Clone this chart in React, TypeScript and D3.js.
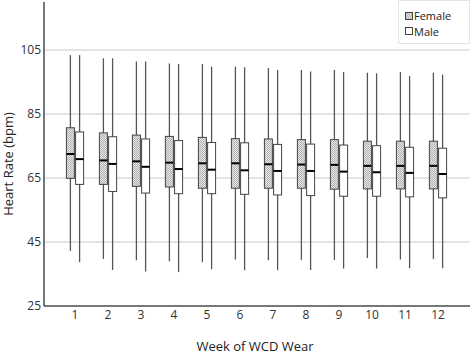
import React from "react";
import * as d3 from "d3";

const weeks = ["1", "2", "3", "4", "5", "6", "7", "8", "9", "10", "11", "12"];
const femaleMin = [42.2, 39.7, 39.3, 39.0, 38.7, 39.5, 39.3, 39.4, 39.4, 40.0, 39.5, 39.7];
const femaleQ1 = [64.9, 63.0, 62.4, 62.2, 61.8, 61.8, 61.8, 61.8, 61.5, 61.6, 61.6, 61.6];
const femaleMed = [72.5, 70.5, 70.2, 69.8, 69.6, 69.6, 69.3, 69.2, 69.1, 68.8, 68.8, 68.8];
const femaleQ3 = [80.7, 79.1, 78.4, 78.0, 77.7, 77.3, 77.2, 77.0, 77.0, 76.5, 76.5, 76.5];
const femaleMax = [103.4, 102.4, 101.4, 100.8, 100.6, 99.8, 99.4, 98.75, 98.75, 97.9, 98.1, 97.9];
const maleMin = [38.7, 36.25, 35.8, 35.6, 36.5, 36.2, 36.2, 36.25, 36.7, 36.7, 36.8, 36.8];
const maleQ1 = [63.0, 60.8, 60.3, 60.1, 60.1, 59.9, 59.7, 59.5, 59.3, 59.3, 59.1, 58.8];
const maleMed = [70.9, 69.4, 68.5, 67.8, 67.6, 67.4, 67.2, 67.2, 67.0, 66.8, 66.6, 66.25];
const maleQ3 = [79.4, 77.9, 77.2, 76.7, 76.1, 76.0, 75.5, 75.6, 75.3, 75.1, 74.6, 74.3];
const maleMax = [103.4, 102.4, 101.4, 100.6, 99.8, 99.6, 98.75, 98.3, 98.1, 97.7, 96.9, 97.3];
const yTicks = [25, 45, 65, 85, 105];

const FONT = "'Open Sans', 'Noto Sans', sans-serif";

export default function App() {
  const W = 474, H = 355;
  const left = 44, right = 470, top = 2, bottom = 306;
  const y = d3.scaleLinear().domain([25, 120]).range([bottom, top]);
  const x = d3.scalePoint<string>().domain(weeks).range([75, 438]);
  const off = 4.6, bw = 8;

  const series = [
    { key: "f", dx: -off, min: femaleMin, q1: femaleQ1, med: femaleMed, q3: femaleQ3, max: femaleMax, fill: "url(#dots)" },
    { key: "m", dx: off, min: maleMin, q1: maleQ1, med: maleMed, q3: maleQ3, max: maleMax, fill: "#fff" },
  ];

  return (
    <svg width={W} height={H} style={{ position: "absolute", left: 0, top: 0 }}>
      <defs>
        <pattern id="dots" width="2" height="2" patternUnits="userSpaceOnUse">
          <rect width="2" height="2" fill="#e8e8e8" />
          <rect width="1" height="1" fill="#b0b0b0" />
          <rect x="1" y="1" width="1" height="1" fill="#b0b0b0" />
        </pattern>
      </defs>
      <rect width={W} height={H} fill="#fff" />
      {yTicks.slice(1).map((t) => (
        <line key={t} x1={left} x2={right} y1={y(t)} y2={y(t)} stroke="#c8c8c8" strokeWidth={1} />
      ))}
      {yTicks.map((t) => (
        <text key={"l" + t} x={41} y={y(t)} dy="0.35em" textAnchor="end" fontSize={12} fontFamily={FONT} fill="#333">
          {t}
        </text>
      ))}
      {weeks.map((w, i) => (
        <g key={w}>
          {series.map((s) => {
            const cx = (x(w) as number) + s.dx;
            return (
              <g key={s.key}>
                <line x1={cx} x2={cx} y1={y(s.max[i])} y2={y(s.min[i])} stroke="#555" strokeWidth={1.3} />
                <rect x={cx - bw / 2} y={y(s.q3[i])} width={bw} height={y(s.q1[i]) - y(s.q3[i])} fill={s.fill} stroke="#444" strokeWidth={1} />
                <line x1={cx - bw / 2} x2={cx + bw / 2} y1={y(s.med[i])} y2={y(s.med[i])} stroke="#000" strokeWidth={2} />
              </g>
            );
          })}
          <text x={x(w)} y={319} textAnchor="middle" fontSize={12} fontFamily={FONT} fill="#333">
            {w}
          </text>
        </g>
      ))}
      <line x1={left} x2={left} y1={top} y2={bottom} stroke="#4a4a4a" strokeWidth={1.5} />
      <line x1={left} x2={right} y1={bottom} y2={bottom} stroke="#4a4a4a" strokeWidth={1.5} />
      <text x={255} y={351} textAnchor="middle" fontSize={13} fontFamily={FONT} fill="#222">
        Week of WCD Wear
      </text>
      <text transform={`translate(13,${(top + bottom) / 2 + 10}) rotate(-90)`} textAnchor="middle" fontSize={13} fontFamily={FONT} fill="#222">
        Heart Rate (bpm)
      </text>
      <g>
        <rect x={398.5} y={0.5} width={71} height={43} fill="#fff" stroke="#e4e4e4" />
        <rect x={405.5} y={12.5} width={7} height={7} fill="url(#dots)" stroke="#444" />
        <text x={414} y={20} fontSize={11} fontFamily={FONT} fill="#222">Female</text>
        <rect x={405.5} y={27.5} width={7} height={7} fill="#fff" stroke="#444" />
        <text x={414} y={35.5} fontSize={11} fontFamily={FONT} fill="#222">Male</text>
      </g>
    </svg>
  );
}
